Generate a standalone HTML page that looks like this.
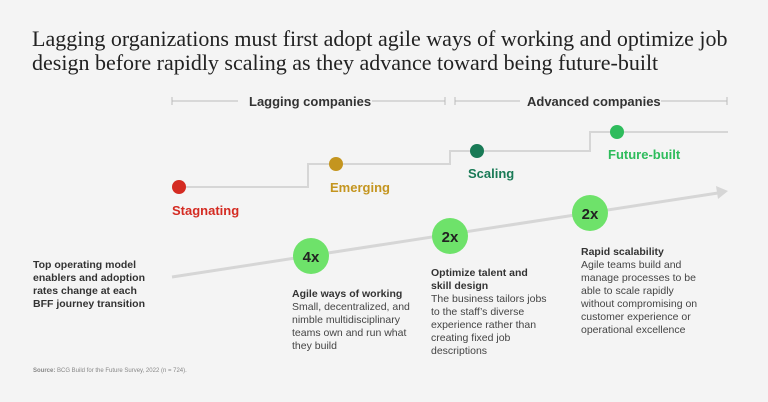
<!DOCTYPE html>
<html><head><meta charset="utf-8"><style>
body{margin:0;width:768px;height:402px;background:#f4f4f4;overflow:hidden;position:relative;font-family:"Liberation Sans",sans-serif;}
.t{position:absolute;white-space:nowrap}
h1{position:absolute;left:32px;top:27px;margin:0;font-family:"Liberation Serif",serif;font-weight:normal;font-size:22px;line-height:24px;color:#222;}
.b{font-weight:bold;font-size:10.5px;color:#333;line-height:13px}
.d{font-size:10.5px;color:#444;line-height:13px}
</style></head><body>
<h1>Lagging organizations must first adopt agile ways of working and optimize job<br>design before rapidly scaling as they advance toward being future-built</h1>
<svg width="768" height="402" style="position:absolute;left:0;top:0">
<g stroke="#bbb" stroke-width="1" fill="none">
<path d="M172 101H238M372 101H445M172 97V105M445 97V105M455 101H520M661 101H727M455 97V105M727 97V105"/>
</g>
<path d="M179 187H308V164H450V151H590V132H728" stroke="#d6d6d6" stroke-width="2" fill="none"/>
<line x1="172" y1="277" x2="718" y2="193" stroke="#d6d6d6" stroke-width="3"/>
<polygon points="728,191 716,186 718,199" fill="#d6d6d6"/>
<circle cx="179" cy="187" r="7" fill="#d42b22"/>
<circle cx="336" cy="164" r="7" fill="#c4951f"/>
<circle cx="477" cy="151" r="7" fill="#197a56"/>
<circle cx="617" cy="132" r="7" fill="#2ebc5c"/>
<circle cx="311" cy="256" r="18" fill="#6ee26a"/>
<circle cx="450" cy="236" r="18" fill="#6ee26a"/>
<circle cx="590" cy="213" r="18" fill="#6ee26a"/>
<g font-family="Liberation Sans" font-weight="bold" font-size="15" fill="#222" text-anchor="middle">
<text x="311" y="262">4x</text><text x="450" y="242">2x</text><text x="590" y="219">2x</text></g>
</svg>
<div class="t" style="left:249px;top:94px;font-size:13px;font-weight:bold;color:#333">Lagging companies</div>
<div class="t" style="left:527px;top:94px;font-size:13px;font-weight:bold;color:#333">Advanced companies</div>
<div class="t" style="left:172px;top:203px;font-size:13px;font-weight:bold;color:#d42b22">Stagnating</div>
<div class="t" style="left:330px;top:180px;font-size:13px;font-weight:bold;color:#c4951f">Emerging</div>
<div class="t" style="left:468px;top:166px;font-size:13px;font-weight:bold;color:#197a56">Scaling</div>
<div class="t" style="left:608px;top:147px;font-size:13px;font-weight:bold;color:#2ebc5c">Future-built</div>
<div class="t b" style="left:33px;top:259px">Top operating model<br>enablers and adoption<br>rates change at each<br>BFF journey transition</div>
<div class="t" style="left:292px;top:288px"><div class="b">Agile ways of working</div><div class="d">Small, decentralized, and<br>nimble multidisciplinary<br>teams own and run what<br>they build</div></div>
<div class="t" style="left:431px;top:267px"><div class="b">Optimize talent and<br>skill design</div><div class="d">The business tailors jobs<br>to the staff’s diverse<br>experience rather than<br>creating fixed job<br>descriptions</div></div>
<div class="t" style="left:581px;top:246px"><div class="b">Rapid scalability</div><div class="d">Agile teams build and<br>manage processes to be<br>able to scale rapidly<br>without compromising on<br>customer experience or<br>operational excellence</div></div>
<div class="t" style="left:33px;top:368px;font-size:6px;color:#888"><b>Source:</b> BCG Build for the Future Survey, 2022 (n = 724).</div>
</body></html>
